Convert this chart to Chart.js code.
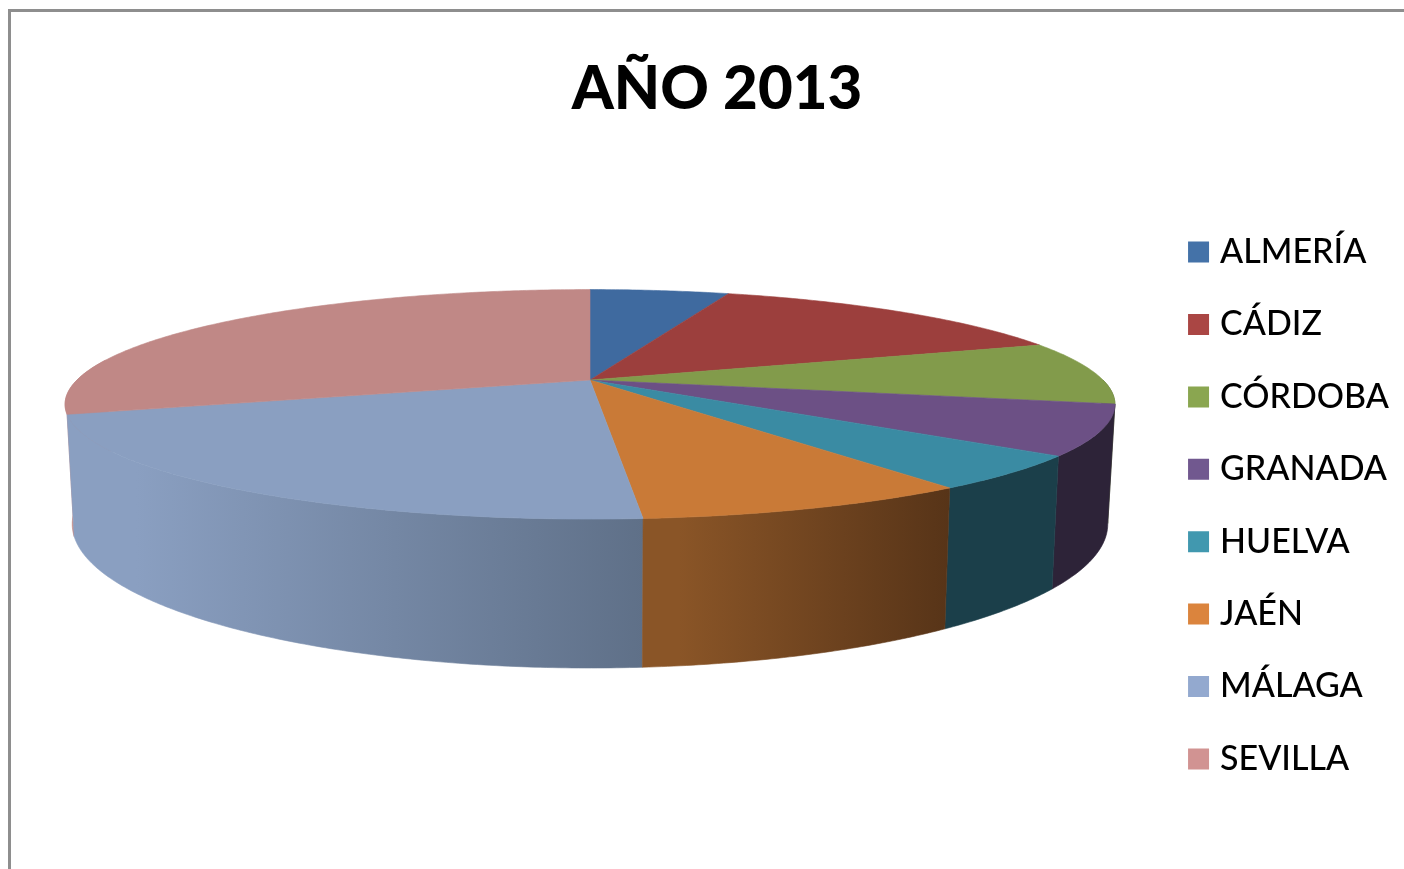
<!DOCTYPE html>
<html lang="es">
<head>
<meta charset="utf-8">
<title>AÑO 2013</title>
<script src="https://cdn.jsdelivr.net/npm/chart.js@4"></script>
<style>
html,body{margin:0;padding:0;background:#fff;width:1404px;height:869px;overflow:hidden}
#frame{position:absolute;left:8px;top:9px;right:-10px;bottom:-10px;border-left:3px solid #8e8e8e;border-top:3px solid #8e8e8e;box-sizing:border-box;filter:blur(0.5px)}
canvas{position:absolute;left:0;top:0;filter:blur(0.6px)}
</style>
</head>
<body>
<div id="frame"></div>
<canvas id="c" width="1404" height="869"></canvas>
<script>
const categories = ['ALMERÍA','CÁDIZ','CÓRDOBA','GRANADA','HUELVA','JAÉN','MÁLAGA','SEVILLA'];
const values = [5.25,14.2,8.9,7.0,4.8,8.55,21.55,29.75];
const topColors = ['#3f6a9f','#9c3f3d','#829b4b','#6c5085','#3a8ba3','#c97a37','#8a9fc1','#c08886'];
const legendColors = ['#4472a8','#aa4644','#8aa650','#71588f','#4198af','#db843d','#93a9cf','#d19392'];
const wallLight = ['#2a4668','#662a28','#556632','#2d2338','#1b3f4a','#8a5527','#8a9fc1','#c08886'];
const wallDark = ['#2a4668','#662a28','#556632','#2d2338','#1b3f4a','#573418','#5f7088','#c08886'];

const TILT = {cx:590, p:0.212, top:{y0:380,k:109.6,r:513}, bottom:{y0:493.5,k:137.5,r:506}};
function project(theta, ring){
  const x = Math.sin(theta), y = Math.cos(theta), w = 1 + TILT.p*y;
  return [TILT.cx + ring.r*x/w, ring.y0 - ring.k*y/w];
}
function rim(from, to, ring){
  const n = Math.max(2, Math.ceil(Math.abs(to-from)/0.01)), pts = [];
  for(let i=0;i<=n;i++) pts.push(project(from+(to-from)*i/n, ring));
  return pts;
}
const pie3d = {
  id:'pie3d',
  beforeDatasetsDraw(chart){
    const ctx = chart.ctx;
    const arcs = chart.getDatasetMeta(0).data.map((a,i)=>({
      i, start:a.startAngle+Math.PI/2, end:a.endAngle+Math.PI/2, color:a.options.backgroundColor
    }));
    const lo = Math.PI/2, hi = Math.PI*1.56;
    const walls = arcs.filter(a=>a.end>lo && a.start<hi)
      .sort((a,b)=>Math.abs((b.start+b.end)/2-Math.PI)-Math.abs((a.start+a.end)/2-Math.PI));
    ctx.save();
    for(const a of walls){
      const s = Math.max(a.start,lo), e = Math.min(a.end,hi);
      const pts = rim(s,e,TILT.top).concat(rim(e,s,TILT.bottom));
      const xs = pts.map(p=>p[0]);
      const g = ctx.createLinearGradient(Math.min(...xs),0,Math.max(...xs),0);
      g.addColorStop(0, wallLight[a.i]);
      g.addColorStop(0.12, wallLight[a.i]);
      g.addColorStop(1, wallDark[a.i]);
      ctx.fillStyle = g; ctx.strokeStyle = g; ctx.lineWidth = 0.6;
      ctx.beginPath();
      pts.forEach((p,k)=>k?ctx.lineTo(p[0],p[1]):ctx.moveTo(p[0],p[1]));
      ctx.closePath(); ctx.fill(); ctx.stroke();
    }
    for(const a of arcs){
      ctx.fillStyle = a.color; ctx.strokeStyle = a.color; ctx.lineWidth = 0.6;
      ctx.beginPath();
      ctx.moveTo(TILT.cx, TILT.top.y0);
      rim(a.start,a.end,TILT.top).forEach(p=>ctx.lineTo(p[0],p[1]));
      ctx.closePath(); ctx.fill(); ctx.stroke();
    }
    ctx.restore();
    return false;
  }
};
new Chart(document.getElementById('c'),{
  type:'pie',
  data:{labels:categories,datasets:[{data:values,backgroundColor:topColors,borderWidth:0}]},
  plugins:[pie3d],
  options:{
    responsive:false,
    animation:false,
    devicePixelRatio:1,
    layout:{padding:{left:35,right:5,top:54,bottom:-88}},
    plugins:{
      tooltip:{enabled:false},
      title:{display:true,text:'AÑO 2013',color:'#000',font:{family:'Lato',size:60,weight:'900'},padding:{top:0,bottom:0}},
      legend:{
        display:true,position:'right',align:'center',
        labels:{
          usePointStyle:true,boxWidth:9,boxHeight:21,padding:38.4,color:'#000',
          font:{family:'Lato',size:34,weight:'500'},
          generateLabels:()=>categories.map((t,i)=>({text:t,fillStyle:legendColors[i],strokeStyle:legendColors[i],lineWidth:0,pointStyle:'rect',index:i,hidden:false}))
        }
      }
    }
  }
});
</script>
</body>
</html>
